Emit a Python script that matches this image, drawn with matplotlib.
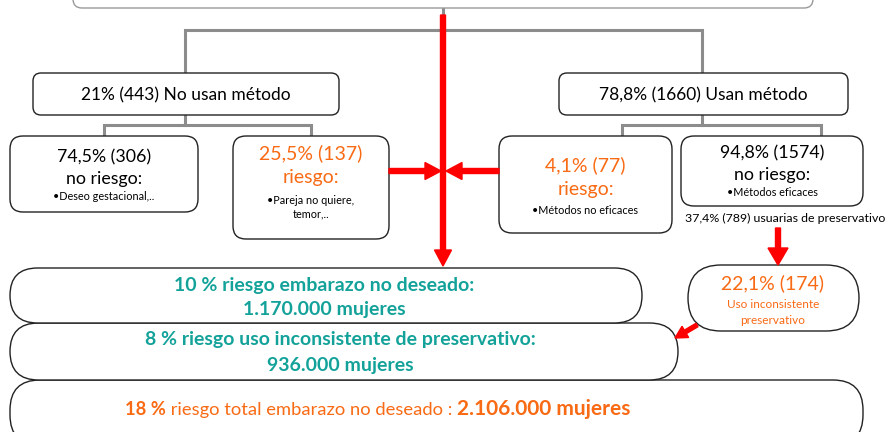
import matplotlib
matplotlib.use("Agg")
import matplotlib.pyplot as plt
from matplotlib.patches import FancyBboxPatch

plt.rcParams['font.family'] = ['Lato', 'DejaVu Sans']

# --- texts of the diagram
nivel1 = ["21% (443) No usan método", "78,8% (1660) Usan método"]
no_usan = [("74,5% (306)", "no riesgo:", ["•Deseo gestacional,.."]),
           ("25,5% (137)", "riesgo:", ["•Pareja no quiere,", "temor,.."])]
usan = [("4,1% (77)", "riesgo:", ["•Métodos no eficaces"]),
        ("94,8% (1574)", "no riesgo:", ["•Métodos eficaces"])]
preservativo = "37,4% (789) usuarias de preservativo"
inconsistente = ("22,1% (174)", ["Uso inconsistente", "preservativo"])
resumen = [("10 % riesgo embarazo no deseado:", "1.170.000 mujeres"),
           ("8 % riesgo uso inconsistente de preservativo:", "936.000 mujeres")]
total = [("18 %", 13.2, "bold"), (" riesgo total embarazo no deseado : ", 13.2, "normal"),
         ("2.106.000 mujeres", 15, "bold")]

ORANGE = "#f96a14"
TEAL = "#13a29a"
GRAY = "#8c8c8c"
RED = "#ff0000"

fig = plt.figure(figsize=(8.86, 4.32), dpi=100)
ax = fig.add_axes([0, 0, 1, 1])
ax.set_xlim(0, 886)
ax.set_ylim(432, 0)
ax.axis("off")


def box(x0, y0, x1, y1, r, ec="#222222", lw=1.0, z=2):
    p = FancyBboxPatch((x0, y0), x1 - x0, y1 - y0,
                       boxstyle=f"round,pad=0,rounding_size={r}",
                       fc="white", ec=ec, lw=lw, zorder=z)
    ax.add_patch(p)


def gray(xs, ys):
    ax.plot(xs, ys, color=GRAY, lw=2.2, zorder=1, solid_joinstyle="miter")


# top box (cut off)
box(73, -40, 813, 8, 9, ec="#9a9a9a", lw=1.0)

# connectors
gray([443, 443], [8, 30])
gray([185, 185, 702, 702], [73, 30, 30, 73])
gray([185, 185], [115, 125])
gray([104, 104, 311, 311], [136, 125, 125, 136])
gray([702, 702], [115, 125])
gray([622, 622, 821, 821], [136, 125, 125, 136])

# level 1 boxes
box(33, 73, 339, 115, 8)
box(559, 73, 848, 115, 8)
ax.text(186, 95, nivel1[0], ha="center", va="center", fontsize=12.5, zorder=5)
ax.text(703, 95, nivel1[1], ha="center", va="center", fontsize=12.5, zorder=5)

# level 2 boxes
lvl2 = [(10, 136, 198, 212, no_usan[0], "black", 157, 179, 197),
        (233, 136, 389, 239, no_usan[1], ORANGE, 153, 178, 200),
        (499, 136, 672, 233, usan[0], ORANGE, 165, 190, 211),
        (681, 136, 863, 206, usan[1], "black", 153, 175, 193)]
for x0, y0, x1, y1, (t1, t2, bullets), col, ya, yb, yc in lvl2:
    box(x0, y0, x1, y1, 13)
    cx = (x0 + x1) / 2
    big = 14 if col == ORANGE else 12.8
    ax.text(cx, ya, t1, ha="center", va="center", fontsize=big, color=col, zorder=5)
    ax.text(cx, yb, t2, ha="center", va="center", fontsize=big, color=col, zorder=5)
    for i, b in enumerate(bullets):
        ax.text(cx, yc + i * 14, b, ha="center", va="center", fontsize=7.8, zorder=5)

ax.text(785, 218, preservativo, ha="center", va="center", fontsize=8.9, zorder=5)

# bottom stadiums
box(10, 380, 863, 445, 30, lw=1.0, z=2)
box(10, 323, 678, 380, 28.5, lw=1.0, z=3)
box(10, 268, 642, 323, 27.5, lw=1.0, z=4)
box(688, 265, 859, 331, 33, lw=1.0, z=2)

ax.text(324, 285, resumen[0][0], ha="center", va="center", fontsize=14,
        fontweight="bold", color=TEAL, zorder=6)
ax.text(324, 310, resumen[0][1], ha="center", va="center", fontsize=14,
        fontweight="bold", color=TEAL, zorder=6)
ax.text(340, 340, resumen[1][0], ha="center", va="center", fontsize=14,
        fontweight="bold", color=TEAL, zorder=6)
ax.text(340, 365, resumen[1][1], ha="center", va="center", fontsize=14,
        fontweight="bold", color=TEAL, zorder=6)

ax.text(773, 283, inconsistente[0], ha="center", va="center", fontsize=14,
        color=ORANGE, zorder=6)
for i, t in enumerate(inconsistente[1]):
    ax.text(773, 304 + i * 16, t, ha="center", va="center", fontsize=8.5,
            color=ORANGE, zorder=6)

# mixed-style total line, centred at x=378
fig.canvas.draw()
rend = fig.canvas.get_renderer()
pieces = []
for s, fs, fw in total:
    t = ax.text(0, 415, s, ha="left", va="baseline", fontsize=fs, fontweight=fw,
                color=ORANGE, zorder=6)
    pieces.append(t)
widths = [t.get_window_extent(rend).width for t in pieces]
x = 378 - sum(widths) / 2
for t, w in zip(pieces, widths):
    t.set_x(x)
    x += w

# red arrows
ax.arrow(443, 15, 0, 251, width=5, head_width=17, head_length=16,
         length_includes_head=True, color=RED, zorder=8)
ax.arrow(389, 171, 52, 0, width=5, head_width=17, head_length=16,
         length_includes_head=True, color=RED, zorder=8)
ax.arrow(499, 171, -53, 0, width=5, head_width=17, head_length=16,
         length_includes_head=True, color=RED, zorder=8)
ax.arrow(778, 228, 0, 37, width=5, head_width=20, head_length=17,
         length_includes_head=True, color=RED, zorder=8)
ax.arrow(697, 325, -22, 13, width=4, head_width=13, head_length=12,
         length_includes_head=True, color=RED, zorder=8)

fig.savefig("out.png", dpi=100)
